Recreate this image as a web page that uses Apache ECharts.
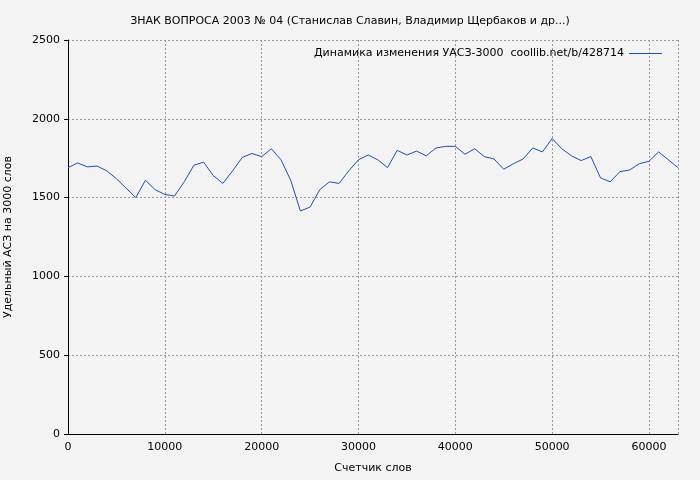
<!DOCTYPE html>
<html><head><meta charset="utf-8">
<script src="https://cdn.jsdelivr.net/npm/echarts@6/dist/echarts.min.js"></script>
<style>html,body{margin:0;background:#f3f3f3}#c{width:700px;height:480px}</style>
</head><body><div id="c"></div>
<script>
var xs = [0,1000,2000,3000,4000,5000,6000,7000,8000,9000,10000,11000,12000,13000,14000,15000,16000,17000,18000,19000,20000,21000,22000,23000,24000,25000,26000,27000,28000,29000,30000,31000,32000,33000,34000,35000,36000,37000,38000,39000,40000,41000,42000,43000,44000,45000,46000,47000,48000,49000,50000,51000,52000,53000,54000,55000,56000,57000,58000,59000,60000,61000,62000,63000];
var ys = [1690,1720,1695,1700,1670,1620,1560,1500,1610,1550,1520,1510,1600,1705,1725,1640,1590,1670,1755,1780,1760,1810,1740,1610,1415,1440,1550,1600,1590,1670,1740,1770,1740,1690,1800,1770,1795,1765,1815,1825,1825,1775,1810,1760,1745,1680,1715,1745,1815,1790,1875,1810,1765,1735,1760,1625,1600,1665,1675,1715,1730,1790,1740,1690];
var seriesName = 'Динамика изменения УАСЗ-3000  coollib.net/b/428714';
var data = xs.map(function(x,i){ return [x, ys[i]]; });
var chart = echarts.init(document.getElementById('c'));
var font = 'DejaVu Sans';
function plain(v){ return String(v); }
chart.setOption({
    backgroundColor: '#f3f3f3',
    animation: false,
    title: {
        text: 'ЗНАК ВОПРОСА 2003 № 04 (Станислав Славин, Владимир Щербаков и др...)',
        left: 'center', top: 11,
        textStyle: {fontFamily: font, fontSize: 11, fontWeight: 'normal', color: '#000'}
    },
    legend: {
        right: 33, top: 43, itemWidth: 33, itemHeight: 1, itemGap: 6,
        icon: 'rect', align: 'right',
        textStyle: {fontFamily: font, fontSize: 11, color: '#000'},
        data: [seriesName]
    },
    grid: {left: 68, right: 22, top: 40, bottom: 46, outerBoundsMode: 'none'},
    xAxis: {
        type: 'value', min: 0, max: 63000, interval: 10000,
        name: 'Счетчик слов', nameLocation: 'middle', nameGap: 29,
        nameTextStyle: {fontFamily: font, fontSize: 11, color: '#000'},
        axisLine: {lineStyle: {color: '#000', width: 1}},
        axisTick: {show: false},
        axisLabel: {fontFamily: font, fontSize: 11, color: '#000', showMaxLabel: false, formatter: plain},
        splitLine: {show: true, lineStyle: {color: '#999', type: [2, 2]}}
    },
    yAxis: {
        type: 'value', min: 0, max: 2500, interval: 500,
        name: 'Удельный АСЗ на 3000 слов', nameLocation: 'middle', nameGap: 54,
        nameTextStyle: {fontFamily: font, fontSize: 11, color: '#000'},
        axisLine: {show: true, lineStyle: {color: '#000', width: 1}},
        axisTick: {show: true, length: 4, lineStyle: {color: '#000'}},
        axisLabel: {fontFamily: font, fontSize: 11, color: '#000', formatter: plain},
        splitLine: {show: true, lineStyle: {color: '#999', type: [2, 2]}}
    },
    series: [{
        name: seriesName, type: 'line', data: data,
        showSymbol: false, lineStyle: {color: '#1f4fb5', width: 1},
        itemStyle: {color: '#1f4fb5'}
    }]
});
</script></body></html>
